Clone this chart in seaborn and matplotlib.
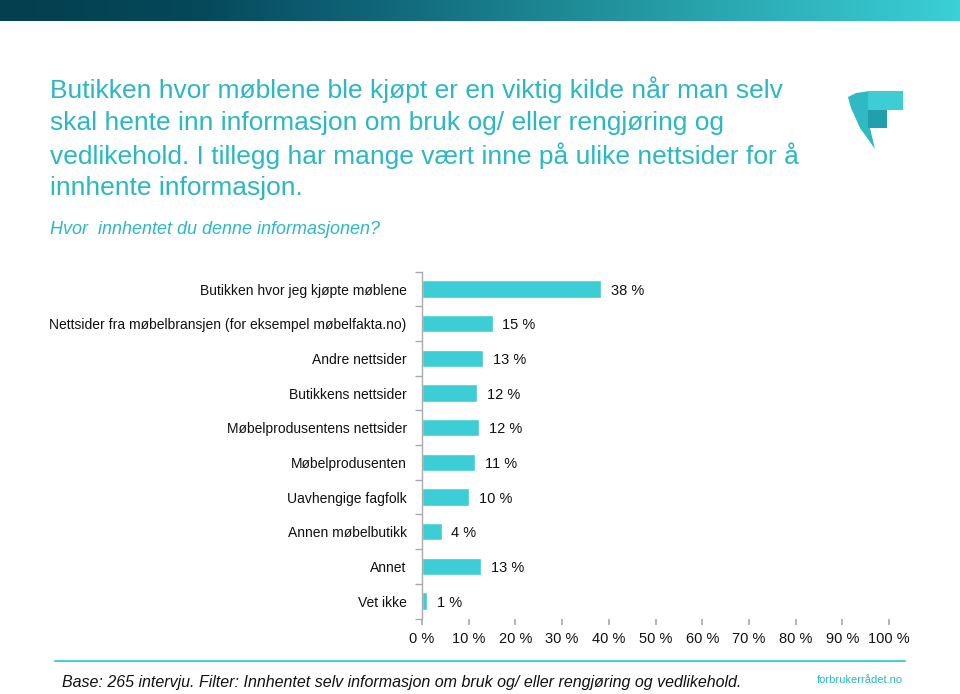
import numpy as np
import pandas as pd
import matplotlib.pyplot as plt
import seaborn as sns
from matplotlib.patches import Polygon
from matplotlib.colors import LinearSegmentedColormap

# data
categories = ["Butikken hvor jeg kjøpte møblene",
              "Nettsider fra møbelbransjen (for eksempel møbelfakta.no)",
              "Andre nettsider",
              "Butikkens nettsider",
              "Møbelprodusentens nettsider",
              "Møbelprodusenten",
              "Uavhengige fagfolk",
              "Annen møbelbutikk",
              "Annet",
              "Vet ikke"]
values = [38.3, 15.1, 13.0, 11.8, 12.3, 11.3, 10.0, 4.2, 12.6, 1.1]
xticks = list(range(0, 101, 10))

headline = ["Butikken hvor møblene ble kjøpt er en viktig kilde når man selv",
            "skal hente inn informasjon om bruk og/ eller rengjøring og",
            "vedlikehold. I tillegg har mange vært inne på ulike nettsider for å",
            "innhente informasjon."]

df = pd.DataFrame({"kategori": categories, "andel": values})

sns.set_theme(style="white")
plt.rcParams["font.family"] = ["Liberation Sans", "DejaVu Sans"]

teal = "#2BB8C2"
barcol = "#3DCDD4"

fig = plt.figure(figsize=(9.6, 6.94), dpi=100)

# top gradient band
band = fig.add_axes([0, 1 - 21 / 694, 1, 21 / 694])
cmap = LinearSegmentedColormap.from_list("band", ["#033F4E", "#05485A", "#11677A", "#1F8C96", "#2DAFB8", "#3BCFD6"])
band.imshow(np.linspace(0, 1, 256)[None, :], aspect="auto", cmap=cmap)
band.axis("off")

# logo
logo = fig.add_axes([845 / 960, 1 - 152 / 694, 62 / 960, 64 / 694])
logo.set_xlim(845, 907)
logo.set_ylim(152, 88)
logo.axis("off")
logo.add_patch(Polygon([(848, 97), (856, 93), (870, 91), (870, 128), (875, 149), (860, 128), (851, 108)],
                       closed=True, color="#2FB9C3", lw=0))
logo.add_patch(Polygon([(868, 91), (903, 91), (903, 110), (868, 110)], closed=True, color="#3ECDD5", lw=0))
logo.add_patch(Polygon([(868, 110), (887, 110), (887, 128), (868, 128)], closed=True, color="#1FA0AC", lw=0))

# headline
for i, line in enumerate(headline):
    fig.text(50 / 960, 1 - (90 + i * 32.7) / 694, line, color=teal, fontsize=19,
             va="center", ha="left")
fig.text(50 / 960, 1 - 230 / 694, "Hvor  innhentet du denne informasjonen?", color=teal,
         fontsize=13, style="italic", va="center", ha="left")

# bar chart
ax = fig.add_axes([422 / 960, 1 - 618.5 / 694, 467 / 960, 346.7 / 694])
sns.barplot(data=df, x="andel", y="kategori", orient="h", color=barcol, width=0.5,
            saturation=1, ax=ax)
ax.set_xlim(0, 100)
ax.set_ylim(len(categories) - 0.5, -0.5)
ax.set_xticks(xticks)
ax.set_xticklabels([f"{t} %" for t in xticks], fontsize=10.5, color="#111111")
ax.tick_params(axis="y", labelsize=10, colors="#111111", length=0, pad=11)
ax.tick_params(axis="x", length=4, color="#AAAAAA", direction="out", bottom=True, pad=6)
ax.set_yticks(np.arange(-0.5, len(categories), 1), minor=True)
ax.tick_params(axis="y", which="minor", length=5, color="#AAAAAA", left=True)
ax.set_xlabel("")
ax.set_ylabel("")
for s in ["top", "right", "bottom"]:
    ax.spines[s].set_visible(False)
ax.spines["left"].set_color("#AAAAAA")
ax.spines["left"].set_linewidth(1)
for i, v in enumerate(values):
    ax.text(v + 2.1, i, f"{round(v)} %", va="center_baseline", ha="left", fontsize=10.5, color="#111111")

# footer
fig.add_artist(plt.Line2D([55 / 960, 905 / 960], [1 - 661 / 694, 1 - 661 / 694], color="#4CCFD3", lw=1.5))
fig.text(62 / 960, 1 - 683 / 694,
         "Base: 265 intervju. Filter: Innhentet selv informasjon om bruk og/ eller rengjøring og vedlikehold.",
         fontsize=11.5, style="italic", color="#111111", va="center", ha="left")
fig.text(903 / 960, 1 - 680 / 694, "forbrukerrådet.no", fontsize=8, color=teal, va="center", ha="right")

fig.savefig("out.png", dpi=100)
